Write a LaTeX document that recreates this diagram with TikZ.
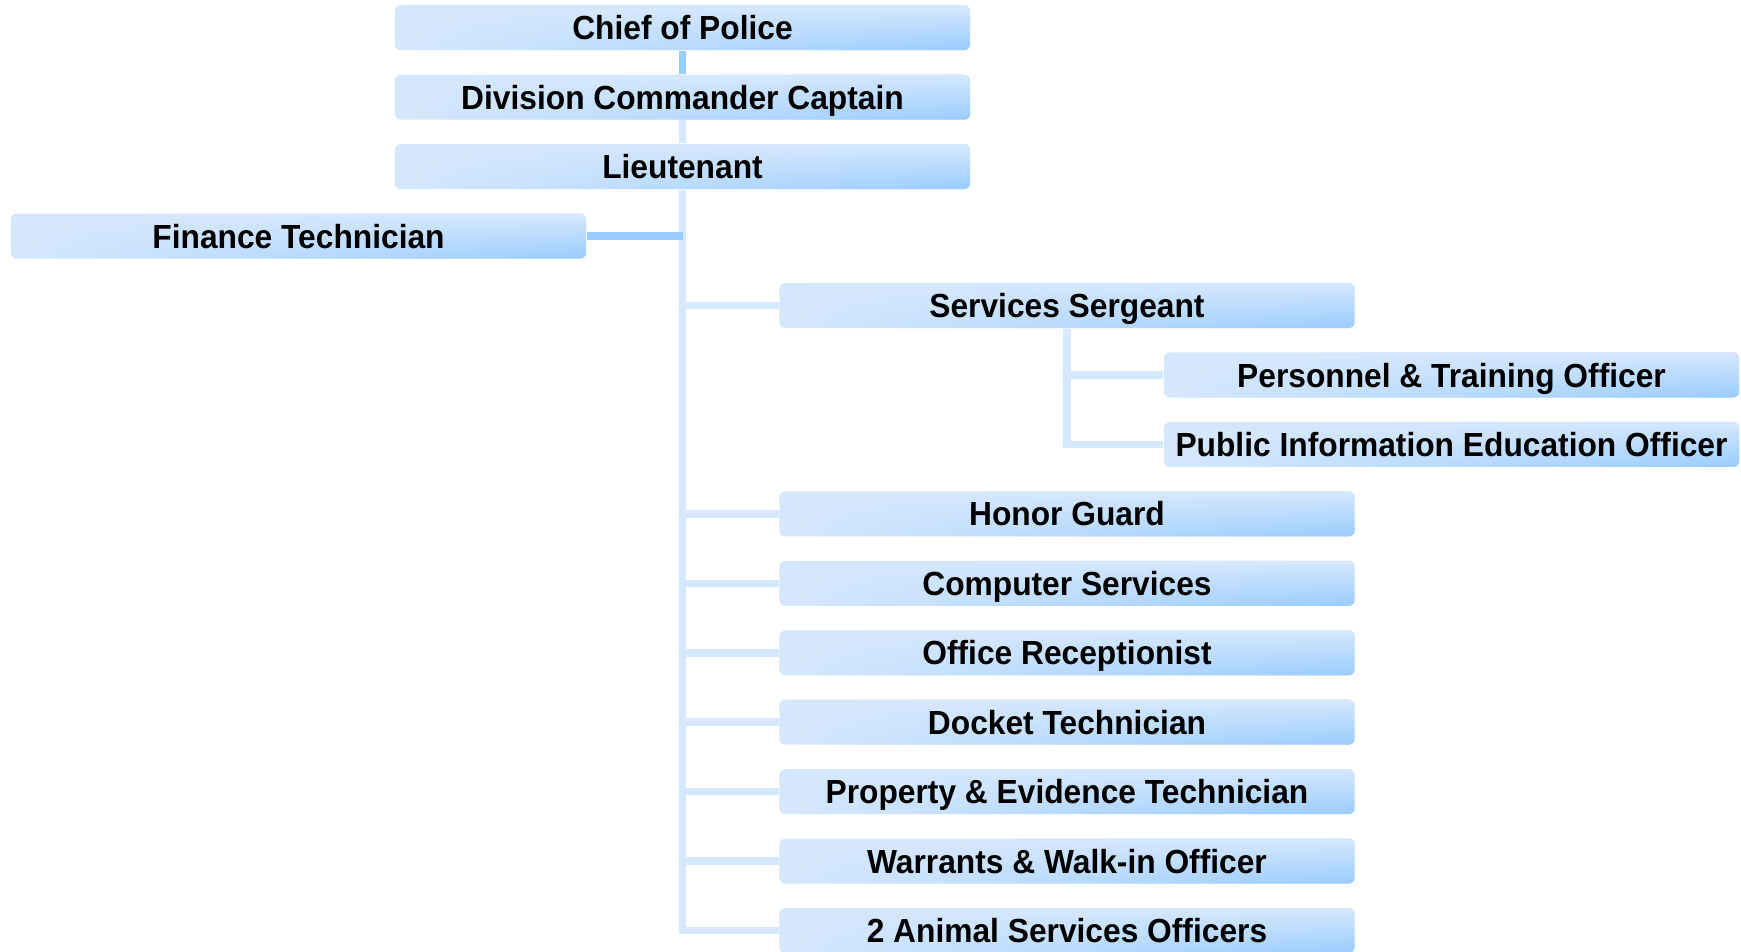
\documentclass[tikz,border=0pt]{standalone}
\usepackage{fontspec}
\newfontfamily\orgfont{Liberation Sans}[FakeStretch=0.95]
\usetikzlibrary{fadings}
\definecolor{boxlight}{RGB}{214,232,253}
\definecolor{boxdark}{RGB}{153,204,255}
\tikzfading[name=fade right, left color=transparent!100, middle color=transparent!85, right color=transparent!0]

\begin{document}
\begin{tikzpicture}[x=0.01cm, y=-0.01cm,
  post/.style={rectangle, rounded corners=0.06cm, fill=boxlight, text=black,
    minimum width=5.75cm, minimum height=0.45cm, inner sep=0pt, text depth=0pt,
    font=\orgfont\bfseries\fontsize{9.5}{11}\selectfont,
    path picture={\fill[top color=boxlight, bottom color=boxdark, path fading=fade right]
      (path picture bounding box.south west) rectangle (path picture bounding box.north east);}},
  link/.style={draw=boxlight, line width=0.075cm},
  linkdark/.style={draw=boxdark, line width=0.075cm}]
\useasboundingbox (0,0) rectangle (1741,952);

\node[post] (chief) at (682.5,27.7) {Chief of Police};
\node[post] (div) at (682.5,97.2) {Division Commander Captain};
\node[post] (lt) at (682.5,166.6) {Lieutenant};
\node[post] (fin) at (298.5,236.1) {Finance Technician};

\node[post] (sgt) at (1067,305.5) {Services Sergeant};
\node[post] (pers) at (1451.5,375) {Personnel \& Training Officer};
\node[post] (pub) at (1451.5,444.4) {Public Information Education Officer};

\node[post] (honor) at (1067,513.9) {Honor Guard};
\node[post] (comp) at (1067,583.3) {Computer Services};
\node[post] (office) at (1067,652.8) {Office Receptionist};
\node[post] (docket) at (1067,722.2) {Docket Technician};
\node[post] (prop) at (1067,791.7) {Property \& Evidence Technician};
\node[post] (warr) at (1067,861.1) {Warrants \& Walk-in Officer};
\node[post] (animal) at (1067,930.6) {2 Animal Services Officers};

\draw[linkdark] (chief.south) -- (div.north);
\draw[link] (div.south) -- (lt.north);
\draw[link] (lt.south) -- (lt.south |- animal) -- (animal.west);
\draw[linkdark] (fin.east) -- (lt.south |- fin);
\foreach \n in {sgt,honor,comp,office,docket,prop,warr}
  \draw[link] (lt.south |- \n) -- (\n.west);

\draw[link] (sgt.south) -- (sgt.south |- pub) -- (pub.west);
\draw[link] (sgt.south |- pers) -- (pers.west);
\end{tikzpicture}
\end{document}
